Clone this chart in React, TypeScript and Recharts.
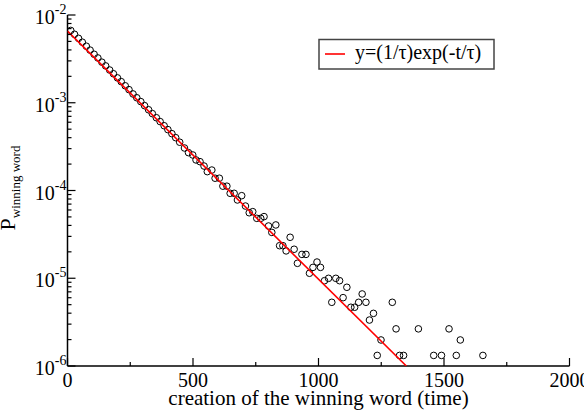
import React from "react";
import { ScatterChart, Scatter, XAxis, YAxis } from "recharts";

// creation time of the winning word (bin centres) and measured probability
const times = [
  13, 28, 44, 59, 75, 90, 106, 121, 137, 152,
  168, 183, 199, 214, 230, 245, 261, 276, 292, 307,
  323, 338, 354, 369, 385, 400, 416, 431, 447, 466,
  482, 499, 512, 528, 544, 557, 575, 588, 605, 619,
  635, 648, 664, 677, 694, 709, 724, 738, 754, 770,
  783, 801, 814, 830, 845, 858, 871, 887, 903, 916,
  934, 950, 964, 978, 994, 1008, 1024, 1040, 1053, 1069,
  1084, 1098, 1113, 1129, 1144, 1160, 1174, 1189, 1203, 1219,
  1234, 1249, 1294, 1309, 1323, 1339, 1398, 1459, 1490, 1520,
  1549, 1565, 1655,
];

const probs = [
  6.67e-3, 6.03e-3, 5.42e-3, 4.9e-3, 4.41e-3, 3.98e-3, 3.57e-3, 3.24e-3, 2.9e-3, 2.63e-3,
  2.36e-3, 2.14e-3, 1.92e-3, 1.74e-3, 1.56e-3, 1.41e-3, 1.26e-3, 1.14e-3, 1.03e-3, 9.27e-4,
  8.32e-4, 7.52e-4, 6.75e-4, 6.1e-4, 5.47e-4, 4.94e-4, 4.44e-4, 4.0e-4, 3.55e-4, 3.05e-4,
  2.7e-4, 2.54e-4, 2.23e-4, 2.13e-4, 1.9e-4, 1.64e-4, 1.71e-4, 1.38e-4, 1.38e-4, 1.12e-4,
  1.12e-4, 9.29e-5, 9.29e-5, 7.8e-5, 8.73e-5, 6.65e-5, 5.58e-5, 5.74e-5, 4.82e-5, 4.82e-5,
  5.04e-5, 3.94e-5, 3.33e-5, 4.05e-5, 2.35e-5, 2.35e-5, 2.05e-5, 2.93e-5, 2.14e-5, 1.48e-5,
  1.87e-5, 1.87e-5, 1.14e-5, 1.33e-5, 1.53e-5, 1.33e-5, 9.38e-6, 9.98e-6, 5.32e-6, 9.98e-6,
  9.38e-6, 6.01e-6, 7.89e-6, 4.67e-6, 4.67e-6, 5.32e-6, 6.62e-6, 5.32e-6, 3.34e-6, 3.98e-6,
  1.32e-6, 1.98e-6, 5.32e-6, 2.65e-6, 1.32e-6, 1.32e-6, 2.65e-6, 1.32e-6, 1.32e-6, 2.65e-6,
  1.32e-6, 1.98e-6, 1.32e-6,
];

// fitted exponential, a straight line on the log axis
const fitTimes = [0, 1350];
const fitProbs = [6.55e-3, 1.0e-6];

const xMajor = [0, 500, 1000, 1500, 2000];
const xMinor = [250, 750, 1250, 1750];
const yMajor = [1e-6, 1e-5, 1e-4, 1e-3, 1e-2];
const yMajorExp = ["-6", "-5", "-4", "-3", "-2"];
const yMinor = [
  2e-6, 3e-6, 4e-6, 5e-6, 6e-6, 7e-6, 8e-6, 9e-6,
  2e-5, 3e-5, 4e-5, 5e-5, 6e-5, 7e-5, 8e-5, 9e-5,
  2e-4, 3e-4, 4e-4, 5e-4, 6e-4, 7e-4, 8e-4, 9e-4,
  2e-3, 3e-3, 4e-3, 5e-3, 6e-3, 7e-3, 8e-3, 9e-3,
];

const FONT = "'Liberation Serif', 'Times New Roman', serif";
const AXIS = { stroke: "#000", strokeWidth: 1.5 };

const points = times.map((t, i) => ({ t, p: probs[i] }));
const fit = fitTimes.map((t, i) => ({ t, p: fitProbs[i] }));

const isYMajor = (v: number) => yMajor.some((m) => Math.abs(m - v) / m < 1e-6);

function BottomTick({ x, y, payload }: any) {
  const major = xMajor.includes(payload.value);
  return (
    <g>
      <line x1={x} x2={x} y1={y} y2={y - (major ? 8 : 4)} stroke="#000" strokeWidth={1.2} />
      {major && (
        <text x={x} y={y + 21} textAnchor="middle" fontSize={20} fontFamily={FONT} fill="#000">
          {payload.value}
        </text>
      )}
    </g>
  );
}

function TopTick({ x, y, payload }: any) {
  const major = xMajor.includes(payload.value);
  return <line x1={x} x2={x} y1={y} y2={y + (major ? 8 : 4)} stroke="#000" strokeWidth={1.2} />;
}

function LeftTick({ x, y, payload }: any) {
  const major = isYMajor(payload.value);
  const idx = yMajor.findIndex((m) => Math.abs(m - payload.value) / m < 1e-6);
  return (
    <g>
      <line x1={x} x2={x + (major ? 8 : 4)} y1={y} y2={y} stroke="#000" strokeWidth={1.2} />
      {major && (
        <text x={x - 1} y={y + 9} textAnchor="end" fontSize={20} fontFamily={FONT} fill="#000">
          <tspan>10</tspan>
          <tspan dy={-10} fontSize={14}>{yMajorExp[idx]}</tspan>
        </text>
      )}
    </g>
  );
}

function RightTick({ x, y, payload }: any) {
  const major = isYMajor(payload.value);
  return <line x1={x} x2={x - (major ? 8 : 4)} y1={y} y2={y} stroke="#000" strokeWidth={1.2} />;
}

const OpenCircle = ({ cx, cy }: any) => (
  <circle cx={cx} cy={cy} r={3.3} fill="none" stroke="#000" strokeWidth={1} />
);

export default function App() {
  const xTicks = [...xMajor, ...xMinor].sort((a, b) => a - b);
  const yTicks = [...yMajor, ...yMinor].sort((a, b) => a - b);
  return (
    <div style={{ position: "absolute", left: 0, top: 0, width: 584, height: 414, background: "#fff", overflow: "hidden" }}>
      <ScatterChart width={584} height={414} margin={{ top: 15, right: 14.5, bottom: 18, left: 7.5 }}>
        <XAxis
          xAxisId="b"
          dataKey="t"
          type="number"
          domain={[0, 2000]}
          ticks={xTicks}
          interval={0}
          height={30}
          tickSize={0}
          tickMargin={0}
          tickLine={false}
          axisLine={AXIS}
          tick={<BottomTick />}
          allowDataOverflow
        />
        <XAxis
          xAxisId="t"
          orientation="top"
          type="number"
          domain={[0, 2000]}
          ticks={xTicks}
          interval={0}
          height={0}
          tickSize={0}
          tickMargin={0}
          tickLine={false}
          axisLine={AXIS}
          tick={<TopTick />}
          allowDataOverflow
        />
        <YAxis
          yAxisId="l"
          dataKey="p"
          type="number"
          scale="log"
          domain={[1e-6, 1e-2]}
          ticks={yTicks}
          interval={0}
          width={60}
          tickSize={0}
          tickMargin={0}
          tickLine={false}
          axisLine={AXIS}
          tick={<LeftTick />}
          allowDataOverflow
        />
        <YAxis
          yAxisId="r"
          orientation="right"
          type="number"
          scale="log"
          domain={[1e-6, 1e-2]}
          ticks={yTicks}
          interval={0}
          width={0}
          tickSize={0}
          tickMargin={0}
          tickLine={false}
          axisLine={AXIS}
          tick={<RightTick />}
          allowDataOverflow
        />
        <Scatter
          xAxisId="b"
          yAxisId="l"
          data={points}
          shape={<OpenCircle />}
          isAnimationActive={false}
        />
        <Scatter
          xAxisId="b"
          yAxisId="l"
          data={fit}
          line={{ stroke: "#f00", strokeWidth: 1.6 }}
          shape={() => <g />}
          isAnimationActive={false}
        />
      </ScatterChart>
      <svg
        width={584}
        height={414}
        style={{ position: "absolute", left: 0, top: 0, pointerEvents: "none" }}
      >
        <text x={318.5} y={405} textAnchor="middle" fontSize={21} fontFamily={FONT} fill="#000">
          creation of the winning word (time)
        </text>
        <text
          x={15}
          y={188}
          transform="rotate(-90, 15, 188)"
          textAnchor="middle"
          fontFamily={FONT}
          fill="#000"
        >
          <tspan fontSize={22}>P</tspan>
          <tspan fontSize={13} dy={5}>winning word</tspan>
        </text>
        <rect x={319} y={39.5} width={175} height={29.5} fill="#fff" stroke="#444" strokeWidth={1.5} />
        <line x1={325} x2={345} y1={54} y2={54} stroke="#f00" strokeWidth={1.6} />
        <text x={355} y={59} fontSize={20} fontFamily={FONT} fill="#000">
          y=(1/τ)exp(-t/τ)
        </text>
      </svg>
    </div>
  );
}
